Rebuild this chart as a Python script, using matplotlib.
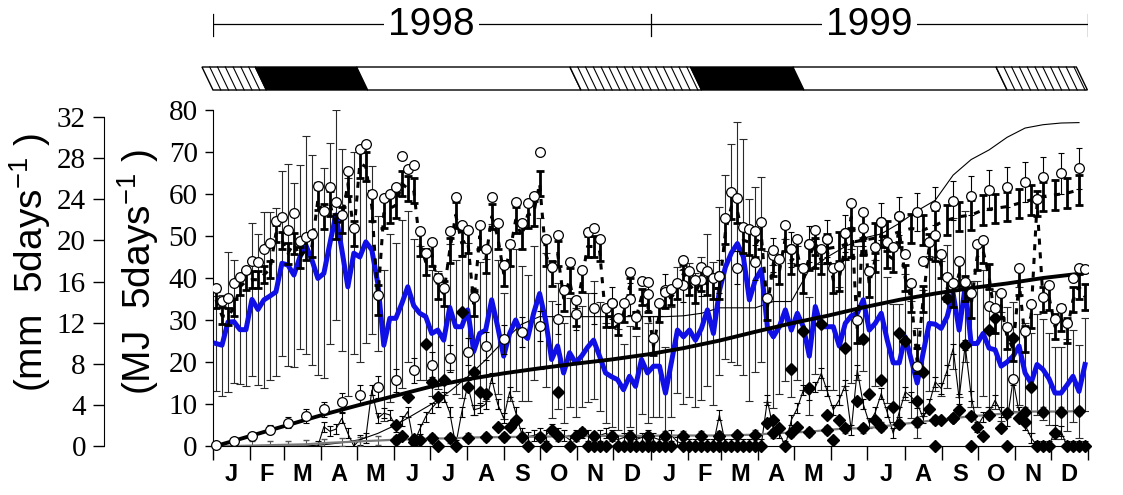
import numpy as np
import matplotlib
matplotlib.use("Agg")
import matplotlib.pyplot as plt
from matplotlib.patches import Polygon

plt.rcParams["mathtext.default"] = "regular"
plt.rcParams["font.family"] = ["Liberation Serif", "DejaVu Serif"]

# ---- data: 146 five-day periods, Jan 1998 - Dec 1999 ----
n_periods = 146

# blue line (MJ 5days-1) and its (thin) error bars
blue = [24.4, 24, 29.5, 29.6, 27.7, 27.7, 34.9, 32.5, 34.8, 35.7,
        36.7, 43.5, 43.1, 40.7, 45, 47.8, 44.3, 39.9, 41.1, 48.2,
        55, 46.7, 37.9, 45.9, 45, 48.6, 46.7, 38.7, 24, 30.4,
        30.4, 33.9, 37.9, 33.4, 31.6, 30.8, 26.8, 27.6, 25.2, 33,
        28.4, 28.4, 32.4, 22.5, 26.8, 27.6, 34.8, 28.4, 21.4, 26.8,
        30, 26.8, 25.6, 31.6, 36.3, 30, 20.6, 23.8, 17.4, 22.2,
        19.8, 21.4, 23.5, 25.2, 21.4, 17.4, 16.5, 15.8, 13.4, 16.6,
        14.2, 20.6, 17.4, 19, 19, 12.6, 20, 27.6, 26, 27.6,
        25.2, 28, 32.4, 26.8, 37, 42.6, 46, 48.2, 45, 34.8,
        39.6, 42, 28.4, 26, 28.4, 32.4, 27.6, 31.6, 28.4, 21.4,
        33.2, 28.4, 28.4, 28.4, 23.8, 29.2, 31, 31.6, 34.8, 27.6,
        29.2, 31.6, 25.2, 19.8, 19.8, 26, 20.6, 15, 22.2, 29.2,
        29, 28, 30.8, 36.3, 27.6, 37.9, 24.4, 24.4, 26.8, 23.3,
        22.9, 19, 20, 21.4, 23.8, 17.4, 15, 19.4, 18.2, 16,
        12.6, 12.6, 14.5, 16.6, 13, 19.4]
blue_err = [11.4, 12, 16.6, 14.7, 13, 13.5, 18.3, 18, 21, 20,
            20, 22, 24, 22, 22, 26, 25, 23, 25, 24,
            25, 24, 26, 24, 25, 24, 20, 16, 18, 20,
            18, 20, 18, 16, 16, 15, 15, 14, 13, 15,
            16, 17, 16, 15, 17, 17, 18, 16, 15, 16,
            17, 16, 15, 16, 18, 16, 14, 15, 12, 13,
            13, 12, 13, 14, 13, 12, 12, 12, 11, 12,
            12, 13, 12, 12, 12, 11, 13, 15, 16, 16,
            16, 17, 18, 17, 20, 22, 26, 29, 28, 24,
            22, 22, 18, 17, 16, 17, 16, 16, 15, 14,
            16, 15, 15, 15, 14, 15, 16, 16, 17, 15,
            15, 16, 15, 14, 14, 15, 14, 13, 15, 16,
            16, 16, 17, 18, 16, 18, 15, 15, 15, 14,
            14, 13, 13, 13, 14, 12, 12, 12, 12, 11,
            11, 11, 11, 11, 11, 11]

# open circles (per period)
circ = [37.6, 34.5, 35.3, 38.9, 40.3, 41.9, 44, 43.9, 46.8, 48.4,
        53.6, 54.6, 51.4, 55.5, 48.8, 49.7, 50.5, 61.8, 56, 61.6,
        58.2, 54.9, 65.5, 51.9, 70.7, 71.9, 59.9, 36, 59, 60.1,
        61.6, 69, 65.9, 66.9, 51.3, 45.9, 48.6, 39.9, 37.7, 51.1,
        59.4, 52.6, 51.4, 35.4, 52.6, 46.8, 59.4, 53.2, 43, 48,
        58.1, 53, 57.8, 59.6, 70, 49.2, 42.7, 50.2, 37.2, 43.8,
        34.8, 41.9, 51, 52, 49.2, 32.8, 34.1, 30.5, 34, 41.5,
        30.8, 39.3, 39, 25.6, 34, 36.7, 37.3, 38.9, 44.4, 41.7,
        39.5, 42.7, 41.7, 40, 40.5, 54.2, 60.5, 59, 52.2, 51.6,
        51.2, 53.4, 35.3, 46.7, 44.5, 52.6, 46.8, 49.4, 42.3, 48.1,
        51.4, 47, 49.4, 42.5, 42.9, 50.6, 57.8, 30, 55.8, 41.7,
        47.5, 53.4, 48.6, 47.5, 54.8, 45.7, 38.9, 19, 44, 48.6,
        50.2, 45.7, 40.3, 38.9, 44.1, 39.1, 36.5, 48.1, 49, 33.3,
        32.8, 36.5, 28.4, 15.9, 42.3, 27.5, 33.8, 58.8, 35.5, 38.3,
        30.2, 32.8, 29.2, 40.1, 42.3, 42.1]

# bold dashed series with heavy error bars
bold = [34.8, 31, 30.8, 33, 37.9, 39.2, 39.6, 39.6, 40.8, 42,
        50.6, 49, 45.9, 48.2, 45, 46.7, 47.4, 58.6, 54.6, 57.8,
        52.2, 53.8, 62.5, 50.6, 67.3, 66.5, 57, 34.8, 55.4, 56.6,
        57.3, 62.5, 61.3, 60.9, 48.2, 43.8, 45.9, 37.9, 36.3, 46.6,
        55, 48.3, 49, 33.9, 49.9, 44.3, 54.6, 49.9, 41.1, 45.9,
        53.8, 49.9, 55, 55.4, 62.5, 45.9, 41.1, 45.9, 35.2, 39.5,
        31.6, 39.2, 47.5, 47.5, 46.6, 30.8, 30.8, 28.4, 31.6, 37.9,
        30, 35.5, 33.9, 23.7, 31.6, 34.8, 35.5, 37.1, 41.1, 38.5,
        36.5, 39.5, 38.5, 37.5, 37.5, 51, 57, 56, 49, 48.5,
        48, 50, 33, 43.5, 41.5, 49.5, 44, 46, 39.5, 45,
        48.5, 44, 46.5, 39.5, 40, 47.5, 54.5, 27.5, 52.5, 38.5,
        44.5, 50.5, 45.5, 44.5, 51.5, 40, 35, 20.3, 35, 47.5,
        47, 43, 37.5, 36, 41, 37.5, 33.5, 45, 46.5, 40.3,
        30, 33.5, 26, 23.2, 39, 25.5, 31, 57.8, 34.8, 35.5,
        28.4, 30.5, 27.5, 34.8, 37.9, 35.5]
bold_err_month = [2, 2, 2.5, 3, 3.5, 3, 3, 3, 3, 3, 2.5, 2,
                  2, 2.5, 3, 3, 3, 3, 3, 3, 3, 3, 3, 3]

# second heavy-bar series, late 1999 (every other period)
bold2_idx = list(range(100, 146, 2))
bold2 = [46, 47, 47.5, 48.5, 49, 49.5, 50, 51, 51.8, 51.4, 52.6, 53.8,
         54.6, 55, 56.2, 56.6, 57, 57.8, 58.6, 59.4, 59.8, 60.2, 61]

# cumulative open circles (every third period)
cum_circ = [0.2, 1.2, 2.5, 3.9, 5.5, 7.1, 8.7, 10.4, 12.2, 14,
            15.6, 18, 19.4, 20.9, 22.5, 23.8, 25.4, 27.1, 28.6, 30.2,
            31.4, 32.8, 34, 35, 36.3, 37.1, 38.3, 39.6, 40.4, 42.5,
            43.7, 45.5, 46.8, 48.1, 49.4, 50.6, 52, 53.4, 54.7, 55.8,
            57.1, 58.4, 59.6, 60.9, 61.7, 62.8, 64, 64.9, 66.1]
cum_circ_err = [0.3, 0.5, 0.8, 1, 1.3, 1.6, 1.8, 2.2, 2.4, 2.6,
                2.8, 3, 3, 3.2, 3.3, 3.4, 3.5, 3.5, 3.6, 3.6,
                3.7, 3.7, 3.8, 3.8, 3.8, 3.9, 3.9, 4, 4, 4,
                4.1, 4.1, 4.2, 4.2, 4.3, 4.3, 4.4, 4.4, 4.5, 4.5,
                4.5, 4.6, 4.6, 4.7, 4.7, 4.8, 4.8, 4.8, 4.9]

# thin cumulative line (every third period)
thin_cum = [0, 0, 0, 0, 0, 0, 0.3, 0.8, 1.5, 3,
            5, 7.5, 10, 13, 16.5, 20.5, 25, 29, 30.8, 30.8,
            30.8, 30.8, 30.8, 30.8, 30.8, 30.8, 31, 31.6, 32.9, 32.9,
            32.9, 34.4, 34.4, 42, 45, 47.5, 49.5, 50.5, 53, 56,
            58.5, 64.5, 68.2, 70.5, 73.5, 75.7, 76.5, 76.9, 77]

# thick cumulative line (every sixth period + last)
thick_cum = [0, 2.5, 5, 7.5, 9.8, 12, 14.2, 15.9, 17.3, 18.5,
             19.6, 20.6, 21.8, 23.3, 25.1, 27.2, 29.2, 31, 33, 34.8,
             36.3, 37.6, 38.7, 40, 41, 41.2]

# grey cumulative line with diamonds (every third period)
grey_cum = [0, 0, 0.1, 0.2, 0.3, 0.4, 0.7, 0.9, 1.1, 1.3,
            1.5, 1.6, 1.8, 1.8, 2.0, 2.1, 2.1, 2.2, 2.2, 2.3,
            2.3, 2.4, 2.4, 2.4, 2.4, 2.5, 2.5, 2.5, 2.5, 2.6,
            2.7, 3.0, 3.2, 3.4, 3.8, 4.2, 4.2, 4.6, 5.2, 5.6,
            6.2, 6.6, 7.1, 7.4, 7.8, 8.2, 8.2, 8.2, 8.3]

# thin zigzag line (per period; nothing before May 1998)
zig = [np.nan] * 17 + [
    0, 4.6, 3.5, 4.0, 6.6, 3, 0, 1.5, 2, 13.3,
    6.6, 7.8, 7.4, 4.6, 6, 8.2, 0.6, 4, 7, 9,
    10.6, 11.7, 8, 0.2, 8, 14.5, 8.6, 9, 10, 16.1,
    10, 6.6, 12.9, 8, 3,
    2.2, 2.5, 3, 2.5, 4, 3, 2.5, 1.5, 2.5, 3,
    2.5, 2, 2.5, 3, 2.5, 1.5, 2, 2.5, 1.5, 2,
    2.5, 2, 1.5, 2, 2.5, 1,
    0.5, 0.5, 0.5, 0.5, 0.5, 0.5, 7.4, 0.5, 0.5, 0.5,
    0.5, 0.5, 0.5, 0.5, 10.9, 4, 3, 0, 6.2, 9,
    13.3, 12.1, 14, 17.3, 13, 8.6, 11, 14.5, 3.8, 18.1,
    10, 5.4, 8, 12.5, 8, 3, 8, 12.9, 11.7, 10.2,
    6.6, 10, 15.3, 13.7, 18, 23.2, 11.3, 24, 12, 4.6,
    7, 8, 10.9, 8, 6, 15.7, 8, 5, 2, 0,
    0, 0, 3.8, 3.5, 0, 0, 0, 0]

# scattered filled diamonds
dia_idx = [30, 31, 32, 33, 34, 35, 36, 37, 38, 41, 42, 43, 44, 45, 47, 49, 50,
           56, 57, 61, 92, 93, 94, 96, 97, 98, 99, 101, 102, 103, 104, 105,
           107, 108, 109, 110, 111, 113, 114, 115, 117, 118, 119, 121, 122,
           123, 124, 125, 127, 128, 129, 130, 131, 133, 134, 135, 136, 140]
dia_val = [5.0, 2.3, 11.7, 1.0, 1.4, 24.3, 15.3, 11.7, 15.7, 32, 14.1, 17.7,
           12.9, 12.5, 4.6, 4.6, 6.2, 3.8, 12.9, 3.4, 5.4, 6.2, 4.2, 18.3,
           4.6, 27.5, 13.7, 29, 7.4, 1.4, 6.2, 23.3, 10.6, 25.5, 12.5, 6.2,
           15.7, 9.2, 27, 25, 10.6, 17.7, 8.8, 6.2, 35.2, 6.6, 8.6, 24, 4.6,
           2.4, 27.6, 30.4, 4.2, 25.6, 6.6, 5.8, 14.1, 3.0]
zero_idx = [37, 40, 52, 55, 59, 62, 63, 64, 65] + list(range(67, 77)) + \
    list(range(78, 92)) + [95, 120, 126, 132, 137, 138, 139, 142, 143, 144, 145]

month_len = [31, 28, 31, 30, 31, 30, 31, 31, 30, 31, 30, 31] * 2
month_letters = list("JFMAMJJASOND") * 2

# season bar: boundaries (day) and fill type
season_edges = [0, 44.5, 129, 307, 407.6, 493, 662.5, 729.5]
season_kind = ["hatch", "black", "white", "hatch", "black", "white", "hatch"]
years = ["1998", "1999"]

# ---- derived positions ----
day = 2.5 + 5 * np.arange(n_periods)
month_edges = np.concatenate([[0], np.cumsum(month_len)])
month_mid = (month_edges[:-1] + month_edges[1:]) / 2
month_of = np.searchsorted(month_edges, day, side="right") - 1
bold_err = np.array(bold_err_month)[month_of]
every3 = day[::3]
every6 = np.append(day[::6], day[-1])

sans = ["Liberation Sans", "DejaVu Sans"]

W, H = 1123, 495
fig = plt.figure(figsize=(W / 100, H / 100), dpi=100)
L, R = 213 / W, 1088 / W
B, T = (H - 446) / H, (H - 110) / H

ax = fig.add_axes([L, B, R - L, T - B])
ax.set_xlim(0, 730)
ax.set_ylim(0, 80)

# big thin error bars + blue line
ax.errorbar(day, blue, yerr=blue_err, fmt="none", ecolor="#2a2a2a",
            elinewidth=0.8, capsize=3, capthick=0.8, zorder=2)
ax.plot(day, blue, color="#1010e6", lw=3.6, zorder=4, solid_joinstyle="round")

# thin cumulative line
ax.plot(every3, thin_cum, color="k", lw=0.8, zorder=3)

# thick cumulative line
ax.plot(every6, thick_cum, color="k", lw=2.8, zorder=6)

# bold dashed series
ax.plot(day, bold, color="k", lw=2.2, ls=(0, (2, 2.5)), zorder=5)
ax.errorbar(day, bold, yerr=bold_err, fmt="none", ecolor="k",
            elinewidth=2, capsize=3, capthick=2, zorder=5)
d2 = day[bold2_idx]
ax.plot(d2, bold2, color="k", lw=2.2, ls=(0, (2, 2.5)), zorder=5)
ax.errorbar(d2, bold2, yerr=3.5, fmt="none", ecolor="k",
            elinewidth=2, capsize=3, capthick=2, zorder=5)

# zigzag line with small bars
ax.errorbar(day, zig, yerr=1.2, color="k", lw=0.8, elinewidth=0.8,
            capsize=2, capthick=0.8, zorder=3)

# grey cumulative with diamonds
ax.errorbar(every3, grey_cum, yerr=1.0, color="#7a7a7a", lw=1.6,
            ecolor="#555555", elinewidth=0.8, capsize=2, zorder=3)
ax.plot(every3[10:], grey_cum[10:], "D", color="k", ms=6, zorder=6)

# scattered diamonds
ax.plot(day[dia_idx], dia_val, "D", color="k", ms=6.5, zorder=6, ls="none")
ax.plot(day[zero_idx], np.zeros(len(zero_idx)), "D", color="k", ms=6.5,
        zorder=6, ls="none", clip_on=False)

# open circles
ax.errorbar(every3, cum_circ, yerr=cum_circ_err, fmt="none", ecolor="k",
            elinewidth=0.8, capsize=2.5, capthick=0.8, zorder=5)
ax.plot(every3, cum_circ, "o", mfc="white", mec="k", ms=7, mew=0.9,
        zorder=7, clip_on=False)
ax.plot(day, circ, "o", mfc="white", mec="k", ms=7, mew=0.9, zorder=7)

# axes styling
for s in ("top", "right"):
    ax.spines[s].set_visible(False)
ax.set_yticks(np.arange(0, 81, 10))
ax.tick_params(axis="y", direction="out", length=6, width=1, pad=5,
               labelsize=21)
ax.set_xticks(month_edges)
ax.set_xticklabels([])
ax.set_xticks(month_mid, minor=True)
ax.set_xticklabels(month_letters, minor=True, fontfamily=sans,
                   fontweight="bold", fontsize=17)
ax.tick_params(axis="x", which="major", direction="out", length=10, width=1)
ax.tick_params(axis="x", which="minor", length=0, pad=12)

# outer axis (mm)
ax_mm = fig.add_axes([104 / W, B, 0.0001, (446 - 117) / H])
ax_mm.set_ylim(0, 32)
ax_mm.set_xticks([])
for s in ("top", "right", "bottom"):
    ax_mm.spines[s].set_visible(False)
ax_mm.set_yticks(np.arange(0, 33, 4))
ax_mm.tick_params(axis="y", direction="out", length=8, width=1, pad=5,
                  labelsize=21)

fig.text(138 / W, 1 - 272 / H, "(MJ  5days$^{-1}$ )", rotation=90,
         ha="center", va="center", fontsize=28, family=sans)
fig.text(30 / W, 1 - 263 / H, "(mm  5days$^{-1}$ )", rotation=90,
         ha="center", va="center", fontsize=28, family=sans)

# year line and season bar
ax_top = fig.add_axes([L, (H - 100) / H, R - L, 100 / H])
ax_top.set_xlim(0, 730)
ax_top.set_ylim(100, 0)
ax_top.axis("off")
y_line, bar_top, bar_bot = 24, 67, 90
ax_top.plot([0, 730], [y_line, y_line], color="k", lw=0.9)
year_edges = [0, 365, 730]
for e in year_edges:
    ax_top.plot([e, e], [14, 36], color="k", lw=0.9)
for k, yr in enumerate(years):
    ax_top.text((year_edges[k] + year_edges[k + 1]) / 2, y_line + 1, yr,
                ha="center", va="center", fontsize=28, family=sans,
                bbox=dict(fc="white", ec="none", pad=3))

slant = 9.2
for k, kind in enumerate(season_kind):
    b0, b1 = season_edges[k], season_edges[k + 1]
    poly = Polygon([(b0 - slant, bar_top), (b1 - slant, bar_top),
                    (b1, bar_bot), (b0, bar_bot)],
                   closed=True, fc="k" if kind == "black" else "white",
                   ec="k", lw=1, clip_on=False)
    ax_top.add_patch(poly)
    if kind == "hatch":
        for t in np.arange(b0 - slant + 6.5, b1 - slant - 1, 6.5):
            ax_top.plot([t, t + slant], [bar_top, bar_bot], color="k",
                        lw=0.8, clip_on=False)

fig.savefig("out.png", dpi=100)
